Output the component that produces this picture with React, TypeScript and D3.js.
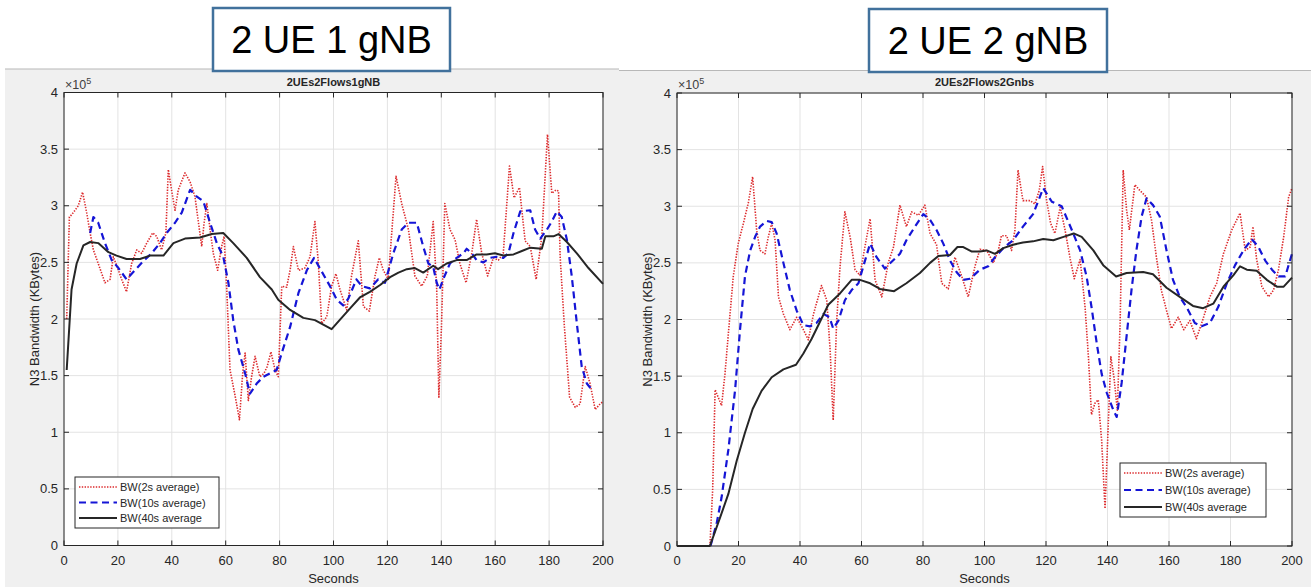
import React from "react";
import * as d3 from "d3";

// values are in units of 1e5 KBytes, time in seconds
const xTicks = [0, 20, 40, 60, 80, 100, 120, 140, 160, 180, 200];
const yTicks = [0, 0.5, 1, 1.5, 2, 2.5, 3, 3.5, 4];
const legendLabels = ["BW(2s average)", "BW(10s average)", "BW(40s average"];

const leftRed = [
  [1, 2.0], [2, 2.9], [2.8, 2.92], [4.1, 2.96], [5.3, 3.0], [6.9, 3.12], [8.4, 2.94], [9.7, 2.76],
  [10.9, 2.61], [12.7, 2.49], [15.2, 2.32], [17.1, 2.35], [18.3, 2.55], [20.2, 2.43], [21.4, 2.35],
  [23.2, 2.24], [25.1, 2.49], [27, 2.61], [28.8, 2.58], [30.7, 2.67], [32.9, 2.76], [34.4, 2.73],
  [36.2, 2.61], [37.8, 2.76], [38.7, 3.32], [39.9, 3.14], [41.2, 2.96], [42.4, 3.14], [44.9, 3.29],
  [46.8, 3.21], [48.6, 3.08], [49.9, 2.85], [51.1, 2.64], [52, 2.85], [53, 3.02], [54.2, 2.79],
  [55.4, 2.58], [57, 2.43], [58.5, 2.64], [59.4, 2.73], [60.4, 2.26], [61.6, 1.55], [63.5, 1.32],
  [65.1, 1.11], [66.3, 1.52], [67.2, 1.7], [68.4, 1.28], [69.6, 1.49], [70.9, 1.67], [72.7, 1.49],
  [74.2, 1.52], [75.4, 1.58], [76.8, 1.71], [78.3, 1.55], [79.5, 1.49], [80.8, 2.29], [82.6, 2.28],
  [83.9, 2.43], [85.1, 2.64], [87, 2.43], [89.4, 2.45], [91.3, 2.55], [93.1, 2.86], [94.4, 2.49],
  [95.6, 1.96], [97.5, 2.02], [99.3, 2.29], [100.9, 2.4], [102.4, 2.26], [104.9, 2.08], [106.7, 2.38],
  [109.2, 2.69], [111.1, 2.11], [113.3, 2.07], [115.4, 2.38], [117, 2.54], [118.5, 2.43], [120.3, 2.35],
  [123.2, 3.26], [125.3, 3.02], [127.8, 2.79], [130.2, 2.38], [132.7, 2.29], [134.8, 2.38], [137, 2.86],
  [138.3, 2.26], [139.1, 1.31], [140.1, 1.96], [141.3, 3.02], [143.2, 2.79], [145.1, 2.7], [146.9, 2.49],
  [149.2, 2.32], [151.3, 2.58], [153.1, 2.88], [155, 2.58], [157.2, 2.38], [159.3, 2.54], [161.2, 2.52],
  [163, 2.58], [165.3, 3.35], [167, 3.07], [169, 3.16], [171.1, 2.69], [173, 2.64], [175.2, 2.35],
  [177.3, 2.73], [179.4, 3.63], [181, 3.11], [182.6, 3.14], [183.5, 3.13], [184.1, 2.55], [185.6, 1.96],
  [187.6, 1.31], [189.7, 1.22], [191.5, 1.25], [193.4, 1.58], [195.2, 1.43], [197.1, 1.2], [198.9, 1.25],
  [200, 1.27],
];

const leftBlue = [
  [9.7, 2.76], [10.9, 2.9], [12.7, 2.85], [15.2, 2.67], [17.7, 2.52], [20.2, 2.45], [23.2, 2.35],
  [26.3, 2.43], [29.4, 2.51], [32.5, 2.58], [35.6, 2.67], [38.1, 2.76], [41.2, 2.85], [43.7, 2.94],
  [46.8, 3.14], [49.3, 3.08], [51.7, 3.04], [54.2, 2.85], [56.7, 2.67], [59.1, 2.55], [61, 2.32],
  [62.8, 1.99], [64.7, 1.73], [67.2, 1.52], [69, 1.34], [71.5, 1.43], [74, 1.49], [76.4, 1.52],
  [78.9, 1.55], [80.8, 1.7], [83.9, 1.93], [87, 2.23], [90.1, 2.43], [92.8, 2.54], [95.6, 2.42],
  [98.7, 2.29], [101.2, 2.17], [103.6, 2.12], [105.5, 2.18], [108.5, 2.35], [110.5, 2.29],
  [113.5, 2.27], [116.6, 2.35], [119.1, 2.32], [122.2, 2.58], [125.3, 2.79], [127.8, 2.85],
  [130.9, 2.85], [133.3, 2.64], [135.2, 2.49], [137, 2.46], [138.3, 2.32], [139.3, 2.26], [140.7, 2.35],
  [143.2, 2.49], [145.7, 2.54], [148.2, 2.58], [149.4, 2.62], [151.3, 2.58], [153.1, 2.52], [155.6, 2.5],
  [158.1, 2.54], [160.6, 2.55], [163, 2.54], [164.9, 2.58], [166.8, 2.76], [169.3, 2.95], [173, 2.96],
  [174.8, 2.79], [176.7, 2.71], [179.2, 2.79], [181, 2.86], [182.9, 2.95], [184.7, 2.9], [186.6, 2.7],
  [188.4, 2.38], [190.3, 1.96], [192.1, 1.58], [194, 1.43], [196.4, 1.36],
];

const leftBlack = [
  [1, 1.55], [2.8, 2.26], [4.7, 2.49], [7.2, 2.65], [9.7, 2.68], [12.7, 2.67], [16.5, 2.59],
  [19.5, 2.56], [23.2, 2.53], [28.2, 2.53], [31.9, 2.56], [36.9, 2.56], [40.6, 2.67], [44.9, 2.71],
  [50.5, 2.72], [54.8, 2.75], [59.1, 2.76], [62.8, 2.67], [67.8, 2.54], [72.7, 2.37], [77.1, 2.26],
  [79.5, 2.17], [83.9, 2.08], [88.8, 2.01], [93.1, 1.99], [96.2, 1.95], [99.3, 1.91], [103, 2.01],
  [106.4, 2.1], [109.8, 2.19], [113.5, 2.24], [117.3, 2.3], [121, 2.37], [124.1, 2.41], [127.2, 2.44],
  [130.2, 2.45], [133.3, 2.41], [137, 2.47], [138.8, 2.44], [142, 2.49], [145.7, 2.52], [149.4, 2.52],
  [153.1, 2.57], [156.8, 2.57], [159.9, 2.58], [163, 2.56], [166.8, 2.57], [169.9, 2.6], [173, 2.63],
  [177.3, 2.62], [178.6, 2.73], [181.6, 2.73], [183.5, 2.75], [186.6, 2.68], [190.3, 2.58],
  [194.6, 2.45], [200, 2.31],
];

const rightRed = [
  [10.7, 0], [11.6, 0.5], [12.4, 1.38], [14.5, 1.24], [15.6, 1.52], [17, 1.97], [18.3, 2.38],
  [19.9, 2.67], [21.6, 2.85], [23.2, 3.03], [24.6, 3.26], [25.9, 2.79], [27, 2.61], [28.6, 2.58],
  [29.7, 2.73], [30.8, 2.85], [31.9, 2.7], [33, 2.2], [34.6, 2.05], [36.7, 1.91], [38.9, 2.02],
  [41.1, 1.91], [42.7, 1.82], [44.4, 2.05], [47, 2.3], [48.7, 2.17], [49.8, 1.73], [50.8, 1.11],
  [51.9, 1.97], [53, 2.46], [54.6, 2.95], [56.3, 2.73], [57.9, 2.44], [59.5, 2.39], [61.1, 2.64],
  [62.8, 2.89], [64.4, 2.35], [66.6, 2.2], [68.7, 2.5], [70.4, 2.64], [72.5, 3.01], [74.6, 2.82],
  [76.3, 2.95], [78.5, 2.92], [80.6, 3.01], [82.3, 2.76], [84.4, 2.66], [86.1, 2.32], [88.2, 2.27],
  [90.4, 2.55], [92.6, 2.38], [94.7, 2.2], [96.9, 2.47], [98.5, 2.62], [100.7, 2.61], [102.9, 2.5],
  [104.5, 2.61], [105.5, 2.74], [107.2, 2.74], [108.8, 2.61], [109.9, 2.79], [110.9, 3.32],
  [112.5, 3.05], [114.8, 3.05], [116.4, 3.02], [117.8, 3.14], [118.9, 3.35], [120.2, 3.05],
  [121.5, 2.85], [122.9, 2.76], [124.6, 2.99], [126.2, 2.79], [127.9, 2.53], [129.2, 2.36],
  [131.1, 2.53], [132.7, 2.11], [133.8, 1.67], [134.8, 1.16], [135.9, 1.26], [137, 1.29], [138.1, 0.93],
  [139.2, 0.33], [140.3, 1.11], [141.1, 1.67], [142.1, 1.49], [143.2, 1.2], [144.1, 1.97], [145.1, 3.32],
  [146.2, 2.97], [147.1, 2.79], [148.9, 3.19], [150.5, 3.14], [152.7, 3.08], [154.3, 2.88],
  [155.9, 2.55], [157.5, 2.26], [159.2, 2.08], [160.8, 1.92], [163, 2.02], [164.8, 1.91], [166.8, 1.99],
  [168.9, 1.83], [170.9, 1.99], [173.3, 2.2], [175.5, 2.32], [177.7, 2.58], [180.4, 2.79], [183.1, 2.94],
  [184.8, 2.61], [186.4, 2.64], [187.3, 2.82], [188.5, 2.53], [190.2, 2.29], [192.4, 2.2], [194, 2.26],
  [195.6, 2.44], [197.3, 2.73], [198.9, 3.08], [200, 3.16],
];

const rightBlue = [
  [10.9, 0], [12.9, 0.2], [14.5, 0.43], [16.7, 0.85], [18.9, 1.38], [20.5, 1.91], [22.1, 2.38],
  [23.8, 2.61], [25.4, 2.73], [27, 2.82], [29.2, 2.87], [30.8, 2.86], [32.4, 2.76], [34.6, 2.5],
  [36.7, 2.26], [38.9, 2.08], [41.1, 1.95], [43.3, 1.94], [45.4, 1.97], [47.6, 2.05], [49.6, 2.02],
  [50.8, 1.92], [52.5, 1.99], [54.6, 2.17], [56.8, 2.26], [59, 2.32], [60.6, 2.47], [62.8, 2.67],
  [64.9, 2.55], [67.6, 2.45], [69.8, 2.51], [72.5, 2.58], [74.6, 2.7], [77.4, 2.82], [80.1, 2.93],
  [82.3, 2.88], [84.4, 2.79], [86.6, 2.67], [88.8, 2.52], [90.9, 2.42], [93.1, 2.35], [95.3, 2.36],
  [98.5, 2.44], [101.2, 2.47], [103.4, 2.55], [106.1, 2.63], [109.3, 2.7], [112.5, 2.82], [115.8, 2.93],
  [119.1, 3.16], [121.9, 3.04], [125.1, 3.0], [128.4, 2.79], [131.1, 2.61], [133.2, 2.38], [134.8, 2.11],
  [136.5, 1.79], [138.1, 1.52], [139.8, 1.35], [141.9, 1.2], [143, 1.14], [144.6, 1.44], [146.2, 1.85],
  [147.8, 2.26], [149.4, 2.61], [151.1, 2.91], [152.7, 3.07], [154.8, 3.01], [157, 2.91], [159.2, 2.61],
  [161.3, 2.35], [163.5, 2.2], [165.7, 2.11], [168.4, 1.97], [170.6, 1.94], [173.3, 1.97], [176, 2.11],
  [178.8, 2.32], [181.5, 2.48], [184.2, 2.61], [186.9, 2.71], [189.1, 2.64], [191.3, 2.52], [193.5, 2.44],
  [195.6, 2.38], [197.8, 2.38], [200, 2.58],
];

const rightBlack = [
  [0, 0], [10.7, 0], [14, 0.25], [16.7, 0.46], [19.4, 0.75], [22.1, 1.0], [24.6, 1.21], [27.5, 1.37],
  [30.8, 1.49], [34.6, 1.56], [38.7, 1.6], [41.1, 1.7], [43.8, 1.83], [46.5, 1.98], [49.2, 2.13],
  [53, 2.23], [56.8, 2.35], [59.5, 2.35], [62.8, 2.32], [66, 2.27], [70.6, 2.25], [74.6, 2.32],
  [79, 2.41], [82.3, 2.5], [85, 2.56], [88.8, 2.57], [91.2, 2.64], [93.1, 2.64], [95.9, 2.6], [98.5, 2.6],
  [100.7, 2.61], [103.4, 2.58], [106.1, 2.63], [109.3, 2.66], [112.5, 2.68], [115.8, 2.69], [119.1, 2.71],
  [122.4, 2.7], [125.7, 2.73], [129, 2.76], [131.6, 2.73], [135.4, 2.61], [138.6, 2.48], [142.8, 2.38],
  [146.2, 2.41], [151.6, 2.42], [154.8, 2.4], [159.2, 2.28], [163.5, 2.2], [167.8, 2.12], [171.1, 2.1],
  [174.4, 2.14], [177.7, 2.29], [180.9, 2.39], [183.1, 2.47], [185.3, 2.44], [188.5, 2.43], [191.8, 2.35],
  [195.1, 2.29], [197.3, 2.29], [200, 2.37],
];

const FONT = "'Liberation Sans', Arial, Helvetica, sans-serif";
const AX = "#262626";
const styles = [
  { color: "#dc2a2c", width: 1.6, dash: "1.4 1.4" },
  { color: "#1515d6", width: 2.2, dash: "7 4.5" },
  { color: "#262626", width: 2, dash: "" },
];

function Panel({ fig, plot, title, series, legend, label }) {
  const x = d3.scaleLinear().domain([0, 200]).range([plot.l, plot.r]);
  const y = d3.scaleLinear().domain([0, 4]).range([plot.b, plot.t]);
  const line = d3.line().x((d) => x(d[0])).y((d) => y(d[1]));
  const cx = (plot.l + plot.r) / 2;
  const tk = 5;
  return (
    <g fontFamily={FONT}>
      <rect x={fig.x} y={fig.y} width={fig.w} height={fig.h} fill="#f0f0f0" />
      <line x1={fig.x} x2={fig.x + fig.w} y1={fig.y} y2={fig.y} stroke="#b8b8b8" strokeWidth={1.2} />
      <rect x={plot.l} y={plot.t} width={plot.r - plot.l} height={plot.b - plot.t} fill="#fff" />
      {xTicks.map((t) => (
        <line key={"gx" + t} x1={x(t)} x2={x(t)} y1={plot.t} y2={plot.b} stroke="#e3e3e3" />
      ))}
      {yTicks.map((t) => (
        <line key={"gy" + t} x1={plot.l} x2={plot.r} y1={y(t)} y2={y(t)} stroke="#e3e3e3" />
      ))}
      <defs>
        <clipPath id={`clip-${title}`}>
          <rect x={plot.l - 1} y={plot.t - 1} width={plot.r - plot.l + 2} height={plot.b - plot.t + 2} />
        </clipPath>
      </defs>
      <g clipPath={`url(#clip-${title})`}>
        {series.map((s, i) => (
          <path key={i} d={line(s)} fill="none" stroke={styles[i].color} strokeWidth={styles[i].width}
            strokeDasharray={styles[i].dash} strokeLinejoin="round" />
        ))}
      </g>
      <rect x={plot.l} y={plot.t} width={plot.r - plot.l} height={plot.b - plot.t} fill="none" stroke={AX} strokeWidth={1} />
      {xTicks.map((t) => (
        <g key={"tx" + t}>
          <line x1={x(t)} x2={x(t)} y1={plot.b} y2={plot.b - tk} stroke={AX} />
          <line x1={x(t)} x2={x(t)} y1={plot.t} y2={plot.t + tk} stroke={AX} />
          <text x={x(t)} y={plot.b + 19} textAnchor="middle" fontSize={13} fill={AX}>{t}</text>
        </g>
      ))}
      {yTicks.map((t) => (
        <g key={"ty" + t}>
          <line x1={plot.l} x2={plot.l + tk} y1={y(t)} y2={y(t)} stroke={AX} />
          <line x1={plot.r} x2={plot.r - tk} y1={y(t)} y2={y(t)} stroke={AX} />
          <text x={plot.l - 6} y={y(t) + 4.5} textAnchor="end" fontSize={13} fill={AX}>{t}</text>
        </g>
      ))}
      <text x={plot.l + 1} y={plot.t - 4} fontSize={12.5} fill="#404040">
        ×10<tspan dy={-5} fontSize={9}>5</tspan>
      </text>
      <text x={cx} y={plot.t - 7} textAnchor="middle" fontSize={11} fontWeight="bold" fill={AX}>{title}</text>
      <text x={cx} y={plot.b + 37} textAnchor="middle" fontSize={13} fill={AX}>Seconds</text>
      <text transform={`translate(${plot.l - 25},${(plot.t + plot.b) / 2}) rotate(-90)`} textAnchor="middle"
        fontSize={13} fill={AX}>N3 Bandwidth (KBytes)</text>
      <g>
        <rect x={legend.x} y={legend.y} width={legend.w} height={legend.h} fill="#fff" stroke={AX} strokeWidth={1} />
        {legendLabels.map((lab, i) => {
          const ly = legend.y + 10 + i * (legend.h - 20) / 2;
          return (
            <g key={lab}>
              <line x1={legend.x + 4} x2={legend.x + 42} y1={ly} y2={ly} stroke={styles[i].color}
                strokeWidth={styles[i].width} strokeDasharray={styles[i].dash} />
              <text x={legend.x + 45} y={ly + 4} fontSize={11} fill={AX}>{lab}</text>
            </g>
          );
        })}
      </g>
      <rect x={label.x} y={label.y} width={label.w} height={label.h} fill="#fff" stroke="#41719c" strokeWidth={2.5} />
      <text x={label.x + label.w / 2} y={label.y + label.h / 2 + 13} textAnchor="middle" fontSize={38} fill="#000">
        {label.text}
      </text>
    </g>
  );
}

export default function App() {
  return (
    <svg width={1311} height={587} style={{ position: "absolute", left: 0, top: 0, background: "#fff" }}>
      <Panel
        fig={{ x: 5, y: 69, w: 614, h: 520 }}
        plot={{ l: 64, r: 603, t: 92.5, b: 545.5 }}
        title="2UEs2Flows1gNB"
        series={[leftRed, leftBlue, leftBlack]}
        legend={{ x: 75, y: 477, w: 144, h: 51 }}
        label={{ x: 213, y: 8, w: 237, h: 63, text: "2 UE 1 gNB" }}
      />
      <Panel
        fig={{ x: 619, y: 70.5, w: 694, h: 520 }}
        plot={{ l: 677, r: 1292, t: 93, b: 546 }}
        title="2UEs2Flows2Gnbs"
        series={[rightRed, rightBlue, rightBlack]}
        legend={{ x: 1120, y: 463, w: 146, h: 54 }}
        label={{ x: 869, y: 9, w: 238, h: 63, text: "2 UE 2 gNB" }}
      />
    </svg>
  );
}
